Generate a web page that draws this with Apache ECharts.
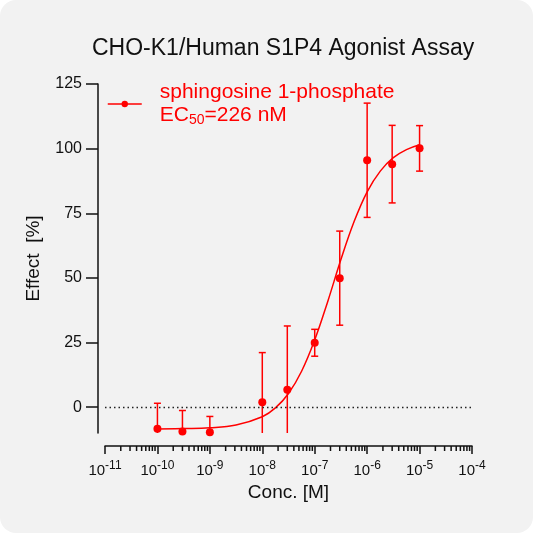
<!DOCTYPE html>
<html>
<head>
<meta charset="utf-8">
<script src="https://cdn.jsdelivr.net/npm/echarts@6/dist/echarts.min.js"></script>
<style>
  html, body { margin: 0; padding: 0; background: #ffffff; }
  #wrap { width: 533px; height: 533px; background: #f2f2f2; border-radius: 16px; overflow: hidden; }
  #chart { width: 533px; height: 533px; }
</style>
</head>
<body>
<div id="wrap"><div id="chart"></div></div>
<script>
// Measured data (mean ± error)
const conc   = [1e-10, 3e-10, 1e-9, 1e-8, 3e-8, 1e-7, 3e-7, 1e-6, 3e-6, 1e-5];
const effect = [-8.4, -9.4, -9.7, 1.9, 6.7, 24.9, 49.9, 95.5, 94.0, 100.1];
const errBar = [9.9, 8.1, 6.1, 19.2, 24.7, 5.2, 18.2, 22.1, 15.0, 8.8];

// Fitted curve
const curveX = [1e-10, 3.16e-10, 1e-9, 3.16e-9, 1e-8, 1.78e-8, 3.16e-8, 5.62e-8, 1e-7, 1.78e-7, 3.16e-7, 5.62e-7, 1e-6, 1.78e-6, 3.16e-6, 5.62e-6, 1e-5];
const curveY = [-8.45, -8.3, -8.0, -6.9, -3.7, -0.3, 5.3, 13.9, 26.0, 41.0, 57.1, 71.7, 83.3, 91.3, 96.5, 99.6, 101.5];

// Axis ticks
const yTicks = [0, 25, 50, 75, 100, 125];
const decades = [1e-11, 1e-10, 1e-9, 1e-8, 1e-7, 1e-6, 1e-5];
const minorMult = [2, 3, 4, 5, 6, 7, 8, 9];

const seriesName = 'sphingosine 1-phosphate';
const RED = '#ff0000';
const FONT = 'Liberation Sans, Arial, sans-serif';

const minorTicks = [];
decades.forEach(d => minorMult.forEach(m => minorTicks.push([d * m, -10])));

const errData = conc.map((c, i) => [c, effect[i] - errBar[i], effect[i] + errBar[i]]);
const pointData = conc.map((c, i) => [c, effect[i]]);
const curveData = curveX.map((c, i) => [c, curveY[i]]);

const chart = echarts.init(document.getElementById('chart'), null, { renderer: 'canvas' });

const option = {
  backgroundColor: 'transparent',
  animation: false,
  title: {
    text: 'CHO-K1/Human S1P4 Agonist Assay',
    left: 92,
    top: 37,
    padding: 0,
    textStyle: { fontFamily: FONT, fontSize: 23, fontWeight: 'normal', color: '#111' }
  },
  legend: {
    data: [seriesName],
    left: 102,
    top: 77,
    itemWidth: 34,
    itemHeight: 8,
    lineStyle: { width: 1.5, color: RED, type: 'solid', opacity: 1 },
    itemStyle: { color: RED },
    formatter: function () { return '{a|sphingosine 1-phosphate}\n{a|EC}{sub|50}{a|=226 nM}'; },
    textStyle: {
      color: RED,
      padding: [0, 0, 0, 13],
      rich: {
        a: { fontFamily: FONT, fontSize: 21, color: RED, lineHeight: 23 },
        sub: { fontFamily: FONT, fontSize: 14, color: RED, lineHeight: 23, verticalAlign: 'bottom', padding: [8, 0, 0, 0] }
      }
    }
  },
  grid: { left: 105, right: 61, top: 84, bottom: 100 },
  xAxis: {
    type: 'log',
    logBase: 10,
    min: 1e-11,
    max: 1e-4,
    offset: 13,
    name: 'Conc. [M]',
    nameLocation: 'middle',
    nameGap: 32,
    nameTextStyle: { fontFamily: FONT, fontSize: 19, color: '#111' },
    axisLine: { show: true, onZero: false, lineStyle: { color: '#111', width: 1.5 } },
    axisTick: { show: true, inside: false, length: 8, lineStyle: { color: '#111', width: 1.5 } },
    minorTick: { show: false },
    splitLine: { show: false },
    axisLabel: {
      margin: 14,
      formatter: function (v) {
        const e = Math.round(Math.log10(v));
        return '{b|10}{s|' + e + '}';
      },
      rich: {
        b: { fontFamily: FONT, fontSize: 15, color: '#111', verticalAlign: 'bottom', lineHeight: 18 },
        s: { fontFamily: FONT, fontSize: 12, color: '#111', verticalAlign: 'top', lineHeight: 18, padding: [0, 0, 6, 0] }
      }
    }
  },
  yAxis: {
    type: 'value',
    min: -10,
    max: 125,
    offset: 7,
    name: 'Effect  [%]',
    nameLocation: 'middle',
    nameGap: 55,
    nameTextStyle: { fontFamily: FONT, fontSize: 19, color: '#111' },
    axisLine: { show: true, onZero: false, lineStyle: { color: '#111', width: 1.5 } },
    axisTick: { show: true, length: 12, customValues: yTicks, lineStyle: { color: '#111', width: 1.5 } },
    axisLabel: { margin: 16, customValues: yTicks, fontFamily: FONT, fontSize: 16, color: '#111' },
    splitLine: { show: false }
  },
  series: [
    {
      name: 'fit',
      type: 'line',
      data: curveData,
      smooth: 0.4,
      showSymbol: false,
      symbol: 'none',
      lineStyle: { color: RED, width: 1.5 },
      z: 3,
      markLine: {
        silent: true,
        symbol: ['none', 'none'],
        label: { show: false },
        lineStyle: { color: '#222', type: [1.5, 3], width: 1.3 },
        data: [{ yAxis: 0 }]
      }
    },
    {
      name: 'errors',
      type: 'custom',
      data: errData,
      encode: { x: 0, y: [1, 2] },
      z: 4,
      renderItem: function (params, api) {
        const x = api.value(0);
        const lo = api.coord([x, api.value(1)]);
        const hi = api.coord([x, api.value(2)]);
        const cs = params.coordSys;
        const bottom = cs.y + cs.height;
        const top = cs.y;
        const capW = 3.5;
        const style = { stroke: RED, lineWidth: 1.5 };
        const children = [];
        let y1 = Math.max(hi[1], top);
        let y2 = Math.min(lo[1], bottom);
        children.push({ type: 'line', shape: { x1: hi[0], y1: y1, x2: hi[0], y2: y2 }, style: style });
        if (hi[1] >= top) children.push({ type: 'line', shape: { x1: hi[0] - capW, y1: hi[1], x2: hi[0] + capW, y2: hi[1] }, style: style });
        if (lo[1] <= bottom) children.push({ type: 'line', shape: { x1: lo[0] - capW, y1: lo[1], x2: lo[0] + capW, y2: lo[1] }, style: style });
        return { type: 'group', children: children };
      }
    },
    {
      name: seriesName,
      type: 'line',
      data: pointData,
      symbol: 'circle',
      symbolSize: 8,
      showSymbol: true,
      itemStyle: { color: RED },
      lineStyle: { width: 0, color: RED },
      z: 5
    },
    {
      name: 'minorTicks',
      type: 'custom',
      data: minorTicks,
      silent: true,
      clip: false,
      renderItem: function (params, api) {
        const p = api.coord([api.value(0), api.value(1)]);
        const y0 = p[1] + 13;
        return { type: 'line', shape: { x1: p[0], y1: y0, x2: p[0], y2: y0 + 5 }, style: { stroke: '#111', lineWidth: 1.5 } };
      }
    }
  ]
};

chart.setOption(option);
</script>
</body>
</html>
